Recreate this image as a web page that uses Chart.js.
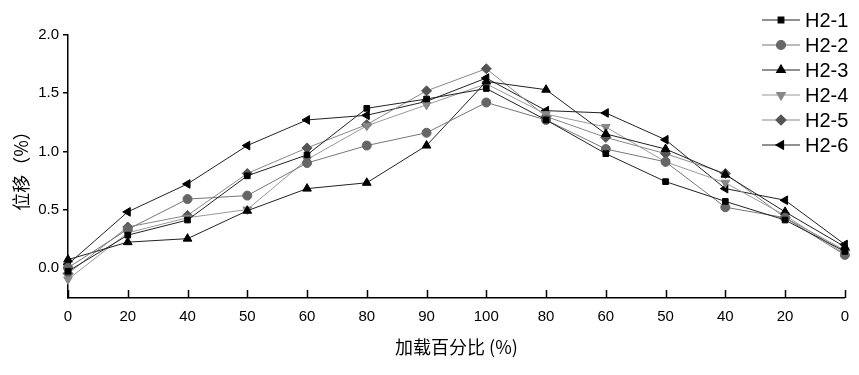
<!DOCTYPE html>
<html>
<head>
<meta charset="utf-8">
<script src="https://cdn.jsdelivr.net/npm/chart.js@4/dist/chart.umd.min.js"></script>
<style>
  html, body { margin: 0; padding: 0; background: #fff; }
  #wrap { width: 859px; height: 375px; position: relative; }
</style>
</head>
<body>
<div id="wrap"><canvas id="chart"></canvas></div>
<script>
// Loading percentage (up then down)
const categories = ['0', '20', '40', '50', '60', '80', '90', '100', '80', '60', '50', '40', '20', '0'];

// Displacement (%) per specimen
const h2_1 = [-0.03, 0.28, 0.41, 0.79, 0.97, 1.37, 1.45, 1.54, 1.27, 0.98, 0.74, 0.57, 0.41, 0.14];
const h2_2 = [0.00, 0.33, 0.59, 0.62, 0.90, 1.05, 1.16, 1.42, 1.27, 1.02, 0.91, 0.52, 0.43, 0.11];
const h2_3 = [0.07, 0.22, 0.25, 0.49, 0.68, 0.73, 1.05, 1.60, 1.53, 1.15, 1.02, 0.80, 0.48, 0.18];
const h2_4 = [-0.10, 0.30, 0.43, 0.50, 0.93, 1.22, 1.40, 1.58, 1.32, 1.21, 0.91, 0.73, 0.45, 0.12];
const h2_5 = [-0.05, 0.35, 0.45, 0.81, 1.03, 1.23, 1.52, 1.71, 1.30, 1.12, 0.98, 0.81, 0.43, 0.15];
const h2_6 = [0.03, 0.48, 0.72, 1.05, 1.27, 1.31, 1.43, 1.63, 1.35, 1.33, 1.10, 0.68, 0.58, 0.20];

const yTicks = [0, 0.5, 1.0, 1.5, 2.0];

const latin = "'Liberation Sans', Arial, sans-serif";
const cjk = "'Noto Sans CJK SC', sans-serif";

// Series styles
const series = [
  { label: 'H2-1', data: h2_1, line: '#222', fill: '#000', style: 'rect', rot: 0, r: 4 },
  { label: 'H2-2', data: h2_2, line: '#777', fill: '#666', style: 'circle', rot: 0, r: 4.5 },
  { label: 'H2-3', data: h2_3, line: '#222', fill: '#000', style: 'triangle', rot: 0, r: 5 },
  { label: 'H2-4', data: h2_4, line: '#999', fill: '#888', style: 'triangle', rot: 180, r: 5 },
  { label: 'H2-5', data: h2_5, line: '#888', fill: '#555', style: 'rectRot', rot: 0, r: 5 },
  { label: 'H2-6', data: h2_6, line: '#222', fill: '#000', style: 'triangle', rot: -90, r: 5 }
];

const datasets = series.map(s => ({
  label: s.label,
  data: s.data,
  borderColor: s.line,
  borderWidth: 1,
  backgroundColor: s.fill,
  pointStyle: s.style,
  rotation: s.rot,
  pointRadius: s.r,
  pointBorderColor: s.fill,
  pointBorderWidth: 1,
  tension: 0
}));

// Inward x ticks + line/marker legend drawn on canvas
const extras = {
  id: 'extras',
  afterDraw(chart) {
    const ctx = chart.ctx;
    const xs = chart.scales.x;
    const bottom = chart.chartArea.bottom;
    ctx.save();
    ctx.strokeStyle = '#000';
    ctx.lineWidth = 1.5;
    xs.ticks.forEach((t, i) => {
      const x = Math.round(xs.getPixelForTick(i)) + 0.5;
      ctx.beginPath();
      ctx.moveTo(x, bottom);
      ctx.lineTo(x, bottom - 8);
      ctx.stroke();
    });

    // legend
    series.forEach((s, i) => {
      const y = 20 + i * 25;
      ctx.strokeStyle = s.line;
      ctx.lineWidth = 1.2;
      ctx.beginPath();
      ctx.moveTo(762, y);
      ctx.lineTo(800, y);
      ctx.stroke();
      ctx.fillStyle = s.fill;
      ctx.strokeStyle = s.fill;
      Chart.helpers.drawPoint(ctx, {
        pointStyle: s.style, rotation: s.rot, radius: s.r, borderWidth: 1
      }, 781, y);
      ctx.fillStyle = '#000';
      ctx.font = '20px ' + latin;
      ctx.textAlign = 'left';
      ctx.textBaseline = 'middle';
      ctx.fillText(s.label, 805, y + 1);
    });
    ctx.restore();
  }
};

new Chart(document.getElementById('chart'), {
  type: 'line',
  data: { labels: categories, datasets },
  options: {
    responsive: true,
    maintainAspectRatio: false,
    animation: false,
    layout: { padding: { left: 0, top: 35, right: 13, bottom: 0 } },
    plugins: {
      legend: { display: false },
      tooltip: { enabled: false }
    },
    scales: {
      x: {
        offset: false,
        grid: { display: true, drawOnChartArea: false, drawTicks: false },
        border: { display: true, color: '#000', width: 1.5 },
        ticks: {
          color: '#000',
          font: { family: latin, size: 15 },
          padding: 10,
          maxRotation: 0,
          autoSkip: false
        },
        title: {
          display: true,
          text: '加载百分比 (%)',
          color: '#000',
          font: { family: cjk, size: 18 },
          padding: { top: 6, bottom: 17 }
        },
        afterFit: (scale) => { scale.height = 77; }
      },
      y: {
        min: -0.26,
        max: 2.0,
        afterBuildTicks: (scale) => { scale.ticks = yTicks.map(v => ({ value: v })); },
        grid: { display: true, drawOnChartArea: false, tickLength: 5, color: '#000', lineWidth: 1.5 },
        border: { display: true, color: '#000', width: 1.5 },
        ticks: {
          color: '#000',
          font: { family: latin, size: 15 },
          padding: 4,
          callback: (v) => Number(v).toFixed(1)
        },
        title: {
          display: true,
          text: '位移（%）',
          color: '#000',
          font: { family: cjk, size: 18 },
          padding: { bottom: 0, top: 10 }
        },
        afterFit: (scale) => { scale.width = 68; }
      }
    }
  },
  plugins: [extras]
});
</script>
</body>
</html>
